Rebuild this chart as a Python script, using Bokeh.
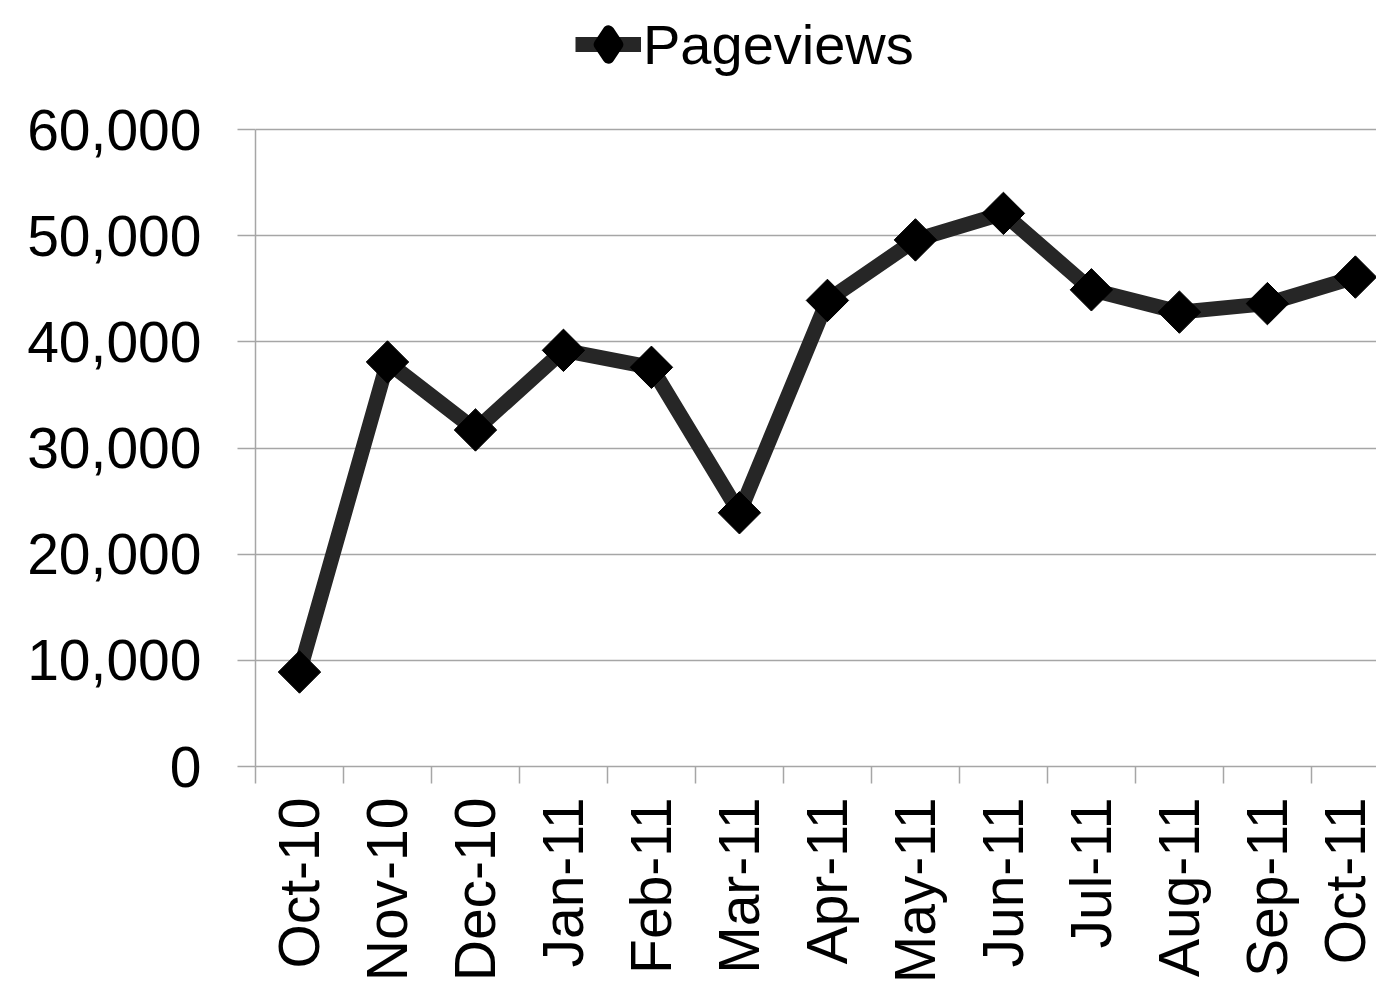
import math
from bokeh.plotting import figure
from bokeh.models import (Range1d, FixedTicker, NumeralTickFormatter, Legend,
                          LegendItem, ColumnDataSource)
from bokeh.embed import file_html
from bokeh.resources import INLINE

# ---- data ----
months = ["Oct-10", "Nov-10", "Dec-10", "Jan-11", "Feb-11", "Mar-11", "Apr-11",
          "May-11", "Jun-11", "Jul-11", "Aug-11", "Sep-11", "Oct-11"]
pageviews = [8900, 38100, 31700, 39200, 37600, 23900, 43900,
             49600, 52100, 44900, 42800, 43600, 46100]
y_ticks = [0, 10000, 20000, 30000, 40000, 50000, 60000]
series_name = "Pageviews"

# ---- styles ----
FONT = "Liberation Sans"
GRID = "#a6a6a6"
LINE = "#262626"

idx = list(range(len(months)))
src = ColumnDataSource(data=dict(x=idx, y=pageviews, month=months))

# frame spans the full height above the x axis; the value axis is bounded to 0..60,000
y_top = y_ticks[-1] * 766 / 637
p = figure(width=1376, height=987, output_backend="svg", toolbar_location=None,
           x_range=Range1d(-0.5, 12.24), y_range=Range1d(0, y_top),
           min_border_left=255, min_border_right=0, min_border_top=0,
           min_border_bottom=221)
p.outline_line_color = None
p.background_fill_color = "white"
p.border_fill_color = "white"

# y axis
yax = p.yaxis[0]
yax.ticker = FixedTicker(ticks=y_ticks)
yax.bounds = (y_ticks[0], y_ticks[-1])
yax.formatter = NumeralTickFormatter(format="0,0")
yax.major_tick_out = 18
yax.major_tick_in = 0
yax.minor_tick_line_color = None
yax.major_label_standoff = 36
yax.major_label_text_font = FONT
yax.major_label_text_font_size = "57px"
yax.major_label_text_color = "black"
yax.axis_line_color = GRID
yax.axis_line_width = 1.5
yax.major_tick_line_color = GRID
yax.major_tick_line_width = 1.5

# x axis
xax = p.xaxis[0]
xax.ticker = FixedTicker(ticks=idx, minor_ticks=[i - 0.5 for i in range(len(months) + 1)])
xax.major_label_overrides = {i: m for i, m in zip(idx, months)}
xax.major_label_orientation = math.pi / 2
xax.major_tick_out = 17
xax.major_tick_in = 0
xax.major_tick_line_color = None
xax.minor_tick_out = 17
xax.minor_tick_in = 0
xax.minor_tick_line_color = GRID
xax.minor_tick_line_width = 1.5
xax.major_label_standoff = 14
xax.major_label_text_font = FONT
xax.major_label_text_font_size = "57px"
xax.major_label_text_color = "black"
xax.axis_line_color = GRID
xax.axis_line_width = 1.5

p.xgrid.grid_line_color = None
p.ygrid.ticker = FixedTicker(ticks=y_ticks)
p.ygrid.grid_line_color = GRID
p.ygrid.grid_line_width = 1.5

line_r = p.line("x", "y", source=src, line_color=LINE, line_width=15, line_join="round")
scat_r = p.scatter("x", "y", source=src, marker="square", size=30, angle=math.pi / 4,
                   fill_color="black", line_color="black", line_width=1)

# legend-only diamond swatch (a single NaN point, so nothing is drawn in the plot)
nan = float("nan")
swatch_r = p.scatter(x=[nan], y=[nan], marker="diamond", size=30, fill_color="black",
                     line_color="black", line_width=12, line_join="round")

legend = Legend(items=[LegendItem(label=series_name, renderers=[line_r, swatch_r])],
                location=(320, 689), orientation="horizontal",
                border_line_color=None, background_fill_alpha=0,
                padding=0, margin=0, glyph_width=66, glyph_height=66,
                label_standoff=2, label_text_font=FONT,
                label_text_font_size="56px", label_text_color="black")
p.add_layout(legend)

open("out.html", "w").write(file_html(p, INLINE))
